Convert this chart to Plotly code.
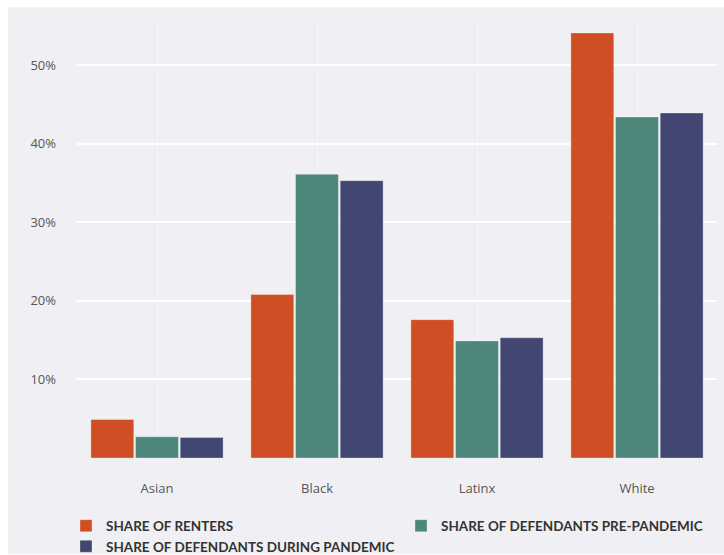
import plotly.graph_objects as go

categories = ["Asian", "Black", "Latinx", "White"]
renters = [4.9, 20.8, 17.6, 54.1]
pre_pandemic = [2.7, 36.1, 14.9, 43.4]
during_pandemic = [2.6, 35.3, 15.3, 43.9]
series_names = ["SHARE OF RENTERS", "SHARE OF DEFENDANTS PRE-PANDEMIC", "SHARE OF DEFENDANTS DURING PANDEMIC"]
colors = ["#D04E23", "#4D877B", "#424672"]
y_ticks = [10, 20, 30, 40, 50]
y_tick_labels = ["10%", "20%", "30%", "40%", "50%"]

fig = go.Figure()
for name, vals, col in zip(series_names, [renters, pre_pandemic, during_pandemic], colors):
    fig.add_trace(go.Bar(
        x=categories, y=vals, name=name,
        marker=dict(color=col, line=dict(color="rgba(255,255,255,0.3)", width=1)),
        hoverinfo="x+y+name",
    ))

BG = "#F0F0F4"
W, H = 724, 555
L, R = 77, 724 - 717
ymax = 56.0
T = 458.5 - ymax * 7.87
B = H - 458.5
PH = H - T - B

fig.update_layout(
    width=W, height=H,
    margin=dict(l=L, r=R, t=T, b=B, pad=0, autoexpand=False),
    paper_bgcolor="#FFFFFF",
    plot_bgcolor=BG,
    barmode="group",
    bargap=0.1625,
    bargroupgap=0.04,
    font=dict(family="Open Sans, sans-serif", color="#444444", size=13),
    showlegend=True,
    legend=dict(
        orientation="h",
        x=-11 / 640, xref="paper", xanchor="left",
        y=-(511 - 458.5) / PH, yref="paper", yanchor="top",
        entrywidth=290, entrywidthmode="pixels",
        font=dict(family="Lato, sans-serif", size=13.5, color="#333333", weight="bold"),
        itemwidth=30,
        tracegroupgap=0,
        bgcolor="rgba(0,0,0,0)",
        traceorder="normal",
    ),
    xaxis=dict(
        showgrid=True, gridcolor="rgba(255,255,255,0.45)", gridwidth=1,
        showline=False, zeroline=False, ticks="",
        tickfont=dict(size=13, color="#555555"),
        ticklabelstandoff=21,
    ),
    yaxis=dict(
        range=[0, ymax],
        tickvals=y_ticks, ticktext=y_tick_labels,
        showgrid=True, gridcolor="#FFFFFF", gridwidth=1.5,
        zeroline=False, showline=False, ticks="",
        tickfont=dict(size=13, color="#555555"),
        ticklabelstandoff=20,
    ),
    shapes=[dict(
        type="rect", xref="paper", yref="paper",
        x0=(8 - L) / (W - L - R), x1=1.0 + R / (W - L - R),
        y0=-(B) / PH, y1=1.0 + (T - 7) / PH,
        fillcolor=BG, line=dict(width=0), layer="below",
    )],
)

fig.write_html("out.html")
